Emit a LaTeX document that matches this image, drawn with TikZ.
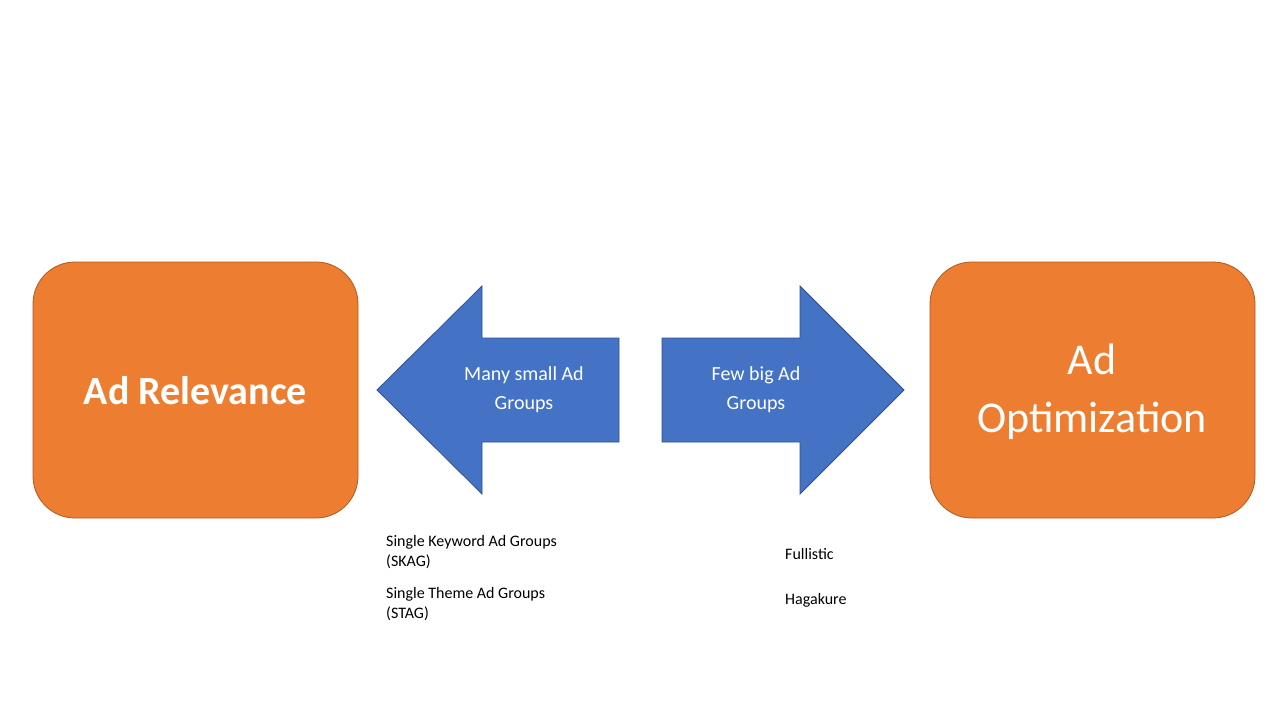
\documentclass[tikz,border=0pt]{standalone}
\usepackage{fontspec}
\setmainfont{Carlito}
\definecolor{orng}{HTML}{ED7D31}
\definecolor{orngd}{HTML}{AE5A21}
\definecolor{blu}{HTML}{4472C4}
\definecolor{blud}{HTML}{2F528F}
\begin{document}
\begin{tikzpicture}[x=1pt,y=-1pt,
  obox/.style={fill=orng,draw=orngd,line width=0.8pt,rounded corners=42pt},
  barrow/.style={fill=blu,draw=blud,line width=0.8pt},
  wt/.style={text=white,align=center},
  bt/.style={text=black,align=left,anchor=north west,font=\fontsize{16}{20}\selectfont}]
\useasboundingbox (0,0) rectangle (1280,720);
\fill[white] (0,0) rectangle (1280,720);
\draw[obox] (33,262) rectangle (358,518);
\draw[obox] (930,262) rectangle (1255,518);
\draw[barrow] (377,390) -- (482,286) -- (482,338) -- (619,338) -- (619,442) -- (482,442) -- (482,494) -- cycle;
\draw[barrow] (904,390) -- (800,286) -- (800,338) -- (662,338) -- (662,442) -- (800,442) -- (800,494) -- cycle;
\node[wt,font=\fontsize{40}{48}\selectfont\bfseries] (rel) at (195.5,391) {Ad Relevance};
\node[wt,font=\fontsize{44}{58}\selectfont] (opt) at (1092,392) {Ad\\Optimization};
\node[wt,font=\fontsize{20}{29}\selectfont] (many) at (524,390) {Many small Ad\\Groups};
\node[wt,font=\fontsize{20}{29}\selectfont] (few) at (756,390) {Few big Ad\\Groups};
\node[bt,inner sep=0pt] (skag) at (386,535) {Single Keyword Ad Groups\\(SKAG)\\[12pt]Single Theme Ad Groups\\(STAG)};
\node[bt,inner sep=0pt] (full) at (785,548) {Fullistic\\[25pt]Hagakure};
\end{tikzpicture}
\end{document}
